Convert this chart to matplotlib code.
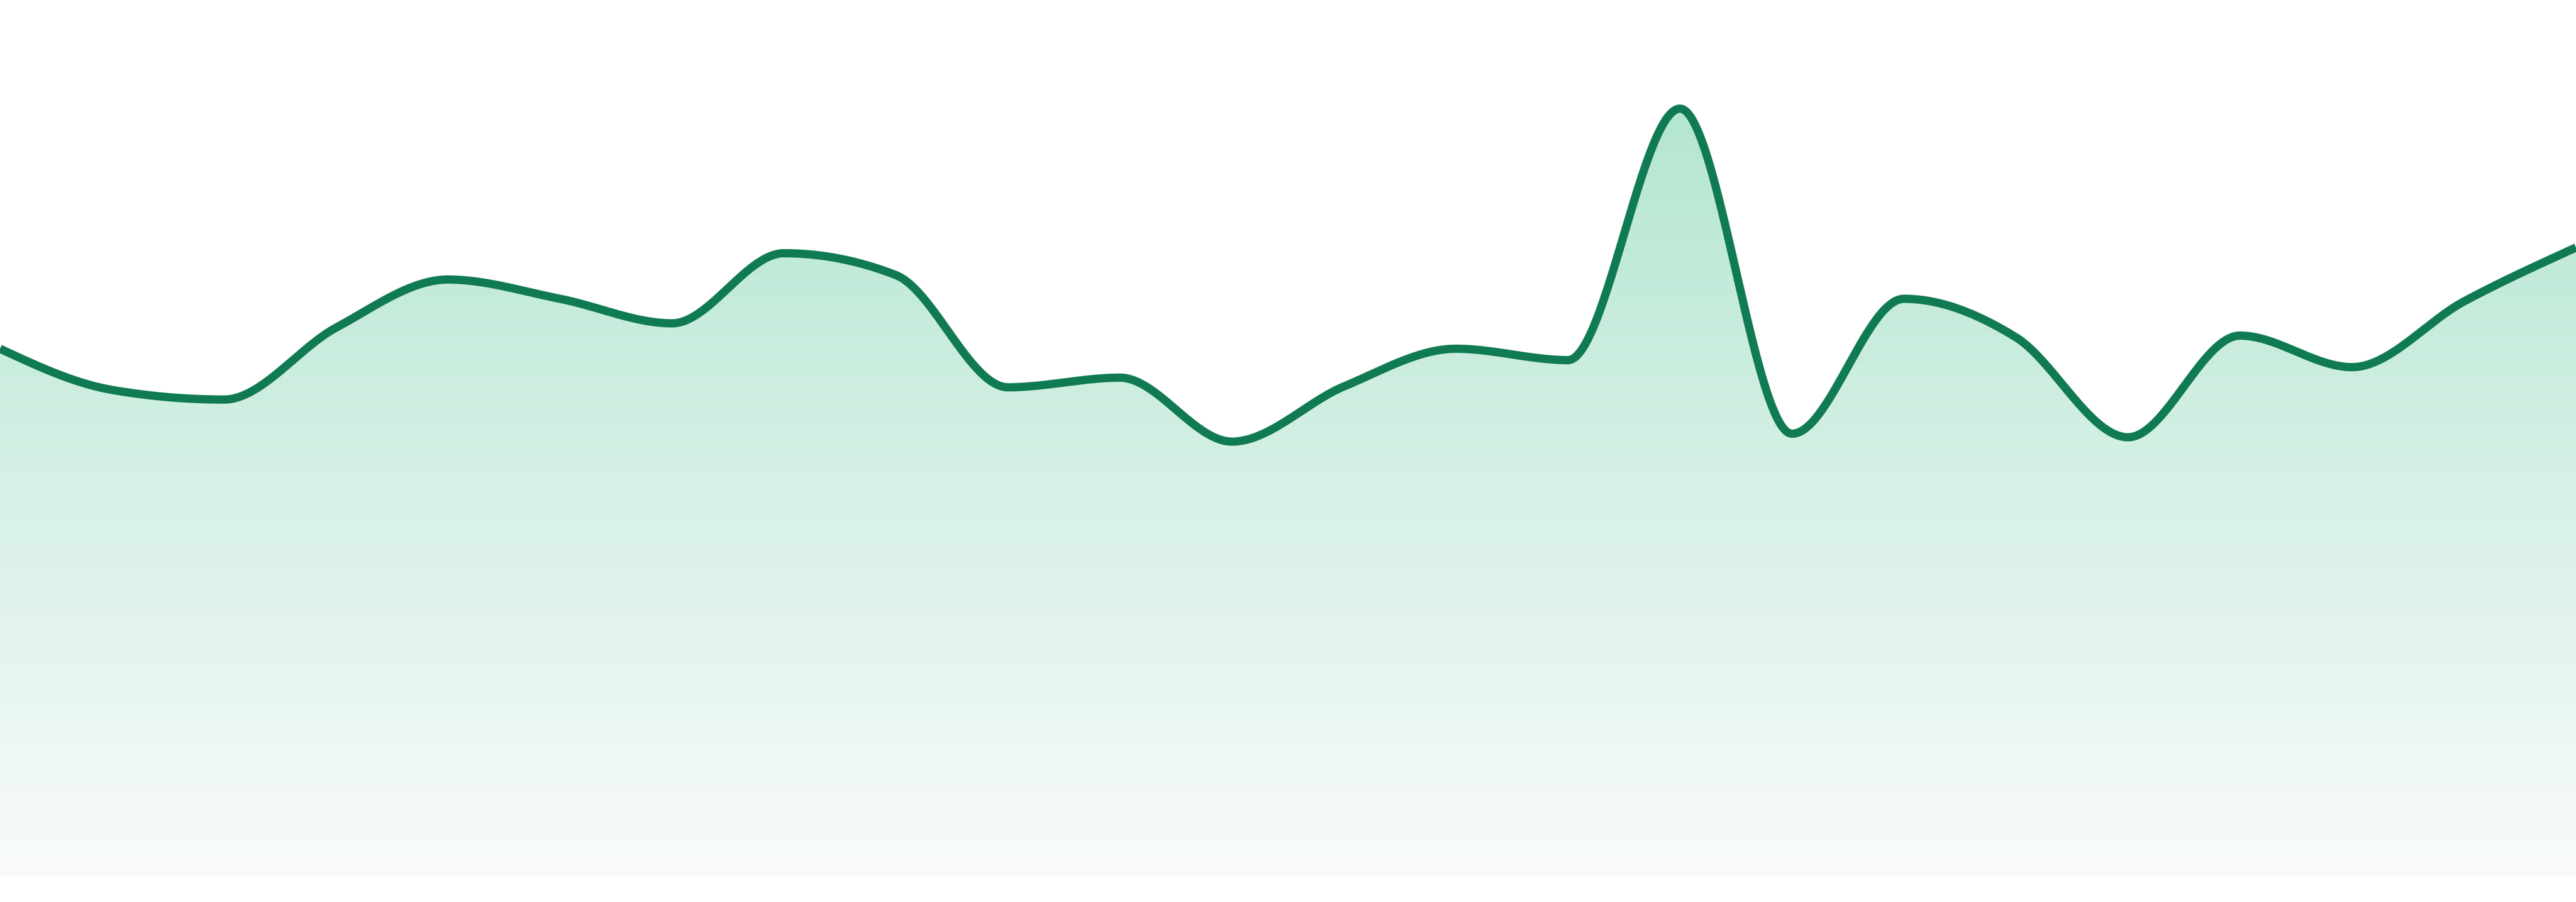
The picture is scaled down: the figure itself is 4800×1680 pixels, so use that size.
import numpy as np
import matplotlib
matplotlib.use("Agg")
import matplotlib.pyplot as plt

# ---- data (24 evenly spaced observations) ----
index = list(range(24))
values = [60.2, 55.5, 54.4, 62.6, 68.1, 65.9, 63.1, 71.1, 68.6, 55.8, 56.9, 49.6,
          55.9, 60.2, 58.9, 87.6, 50.5, 65.9, 61.5, 50.1, 61.7, 58.1, 65.6, 71.75]

LINE_COLOR = "#107b52"
TOP_RGB = (180, 230, 209)
BOTTOM_RGB = (249, 251, 250)


def monotone_x(x, y, n_per=60):
    """d3.curveMonotoneX style interpolation."""
    x = np.asarray(x, float)
    y = np.asarray(y, float)
    n = len(x)
    h = np.diff(x)
    s = np.diff(y) / h
    t = np.zeros(n)
    for i in range(1, n - 1):
        s0, s1 = s[i - 1], s[i]
        p = (s0 * h[i] + s1 * h[i - 1]) / (h[i - 1] + h[i])
        t[i] = (np.sign(s0) + np.sign(s1)) * min(abs(s0), abs(s1), 0.5 * abs(p))
    t[0] = (3 * s[0] - t[1]) / 2
    t[-1] = (3 * s[-1] - t[-2]) / 2
    xs, ys = [], []
    for i in range(n - 1):
        u = np.linspace(0, 1, n_per, endpoint=(i == n - 2))
        dx = h[i]
        p0 = (x[i], y[i])
        p1 = (x[i] + dx / 3, y[i] + dx / 3 * t[i])
        p2 = (x[i + 1] - dx / 3, y[i + 1] - dx / 3 * t[i + 1])
        p3 = (x[i + 1], y[i + 1])
        b0 = (1 - u) ** 3
        b1 = 3 * u * (1 - u) ** 2
        b2 = 3 * u ** 2 * (1 - u)
        b3 = u ** 3
        xs.append(b0 * p0[0] + b1 * p1[0] + b2 * p2[0] + b3 * p3[0])
        ys.append(b0 * p0[1] + b1 * p1[1] + b2 * p2[1] + b3 * p3[1])
    return np.concatenate(xs), np.concatenate(ys)


fig = plt.figure(figsize=(16, 5.6), dpi=300)
fig.patch.set_facecolor("white")
ax = fig.add_axes([0, 48 / 1680, 1, 1632 / 1680])
ax.axis("off")

xs, ys = monotone_x(index, values)

# gradient fill clipped to the area under the curve
poly = ax.fill_between(xs, ys, 0, color="none", linewidth=0)
ymax = max(values)
grad = np.linspace(0, 1, 256)[:, None]
top = np.array(TOP_RGB) / 255.0
bot = np.array(BOTTOM_RGB) / 255.0
img = top[None, None, :] * (1 - grad[:, :, None]) + bot[None, None, :] * grad[:, :, None]
im = ax.imshow(img, extent=[index[0], index[-1], 0, ymax], origin="upper",
               aspect="auto", zorder=1, interpolation="bilinear")
im.set_clip_path(poly.get_paths()[0], transform=ax.transData)

ax.plot(xs, ys, color=LINE_COLOR, linewidth=3.7, solid_capstyle="butt",
        solid_joinstyle="round", zorder=3, clip_on=False)

ax.set_xlim(index[0], index[-1])
ax.set_ylim(0, 100)

fig.savefig("out.png", dpi=300, facecolor="white")
